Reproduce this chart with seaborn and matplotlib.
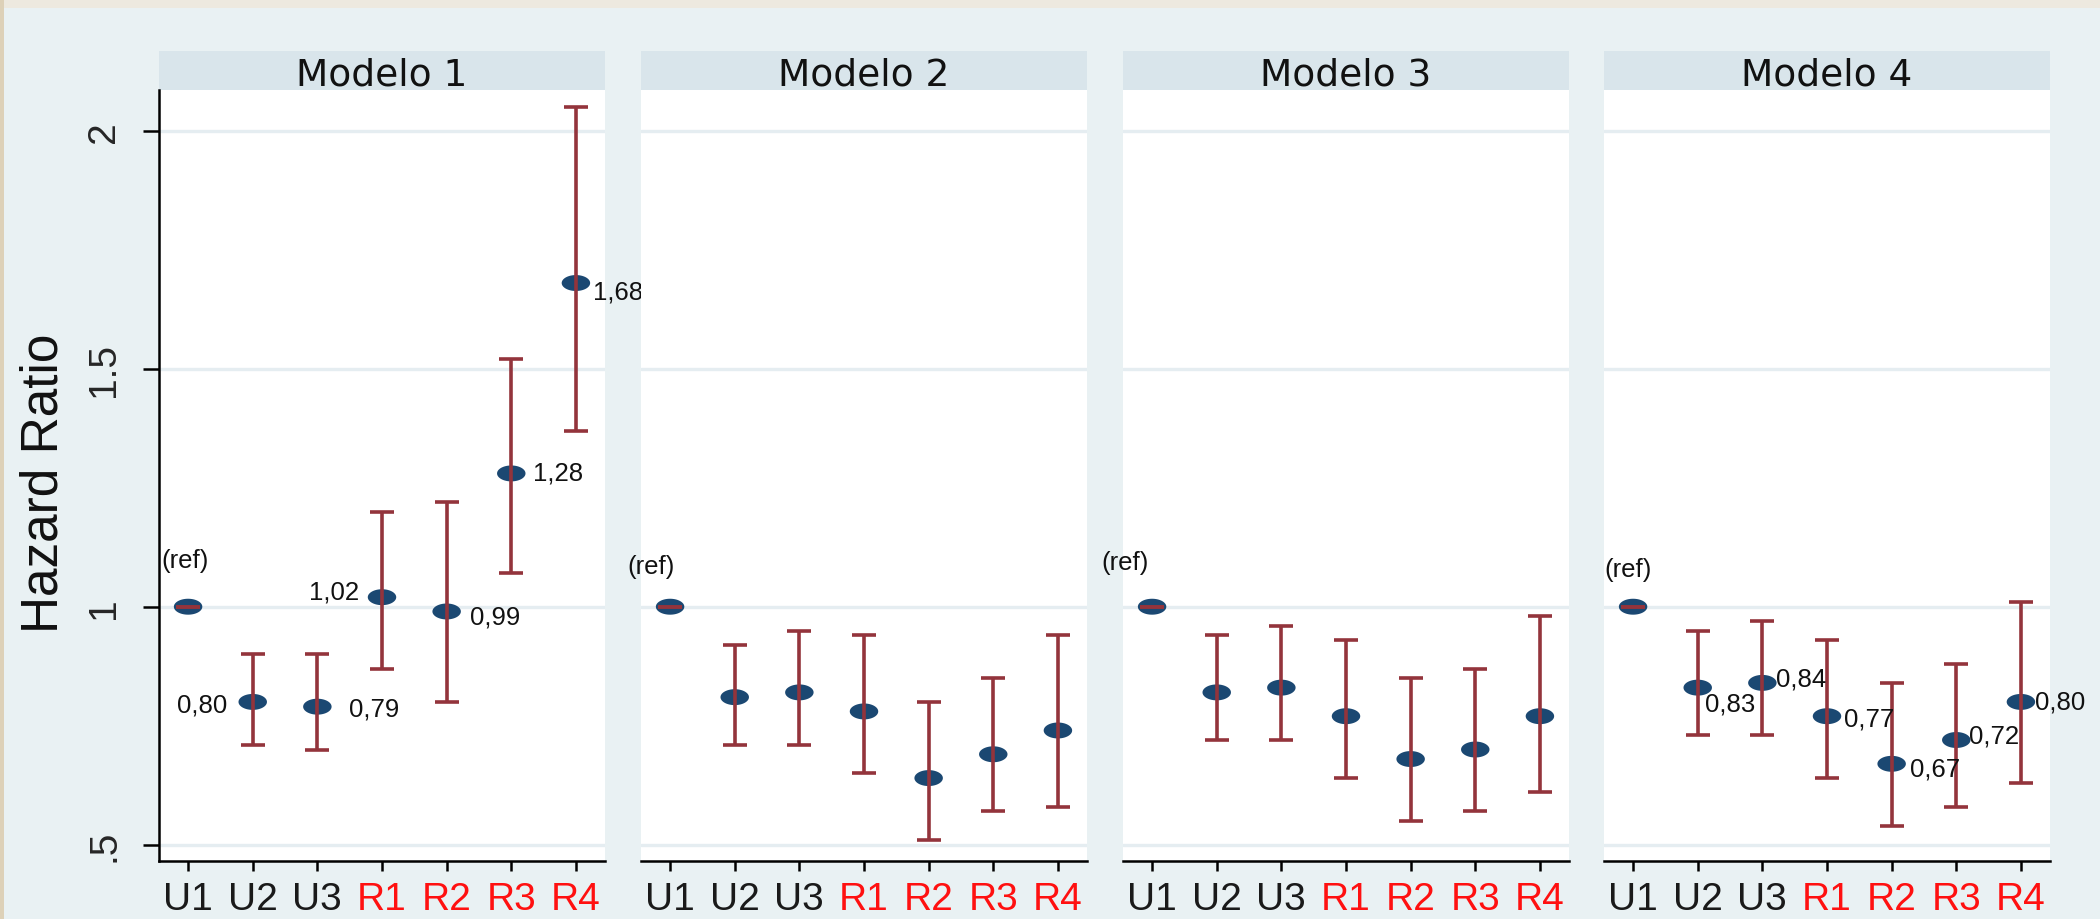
import numpy as np
import pandas as pd
import matplotlib
matplotlib.use("Agg")
import matplotlib.pyplot as plt
import seaborn as sns
from matplotlib.path import Path
from matplotlib.patches import Rectangle

# ---- data -------------------------------------------------------------
modelos = ["Modelo 1", "Modelo 2", "Modelo 3", "Modelo 4"]
grupos = ["U1", "U2", "U3", "R1", "R2", "R3", "R4"]
grupo_tipo = ["U", "U", "U", "R", "R", "R", "R"]

hr_m1 = [1.00, 0.80, 0.79, 1.02, 0.99, 1.28, 1.68]
lo_m1 = [1.00, 0.71, 0.70, 0.87, 0.80, 1.07, 1.37]
hi_m1 = [1.00, 0.90, 0.90, 1.20, 1.22, 1.52, 2.05]

hr_m2 = [1.00, 0.81, 0.82, 0.78, 0.64, 0.69, 0.74]
lo_m2 = [1.00, 0.71, 0.71, 0.65, 0.51, 0.57, 0.58]
hi_m2 = [1.00, 0.92, 0.95, 0.94, 0.80, 0.85, 0.94]

hr_m3 = [1.00, 0.82, 0.83, 0.77, 0.68, 0.70, 0.77]
lo_m3 = [1.00, 0.72, 0.72, 0.64, 0.55, 0.57, 0.61]
hi_m3 = [1.00, 0.94, 0.96, 0.93, 0.85, 0.87, 0.98]

hr_m4 = [1.00, 0.83, 0.84, 0.77, 0.67, 0.72, 0.80]
lo_m4 = [1.00, 0.73, 0.73, 0.64, 0.54, 0.58, 0.63]
hi_m4 = [1.00, 0.95, 0.97, 0.93, 0.84, 0.88, 1.01]

# models whose estimates are printed next to the points
modelos_rotulados = ["Modelo 1", "Modelo 4"]

yticks = [0.5, 1.0, 1.5, 2.0]
ytick_labels = [".5", "1", "1.5", "2"]
y_titulo = "Hazard Ratio"
ref_texto = "(ref)"

df = pd.concat([
    pd.DataFrame({"modelo": m, "grupo": grupos, "tipo": grupo_tipo,
                  "hr": hr, "lo": lo, "hi": hi})
    for m, hr, lo, hi in [
        (modelos[0], hr_m1, lo_m1, hi_m1),
        (modelos[1], hr_m2, lo_m2, hi_m2),
        (modelos[2], hr_m3, lo_m3, hi_m3),
        (modelos[3], hr_m4, lo_m4, hi_m4),
    ]
], ignore_index=True)

# ---- styling / layout ---------------------------------------------------
W, H = 2100, 920
DPI = 100
BEIGE = "#EDE9DF"
TAN = "#DDD1B8"
FONDO = "#E9F1F3"
CABECERA = "#D9E5EB"
GRID = "#E5EDF1"
PUNTO = "#1B4872"
IC = "#93343C"
COLOR_TIPO = {"U": "#1A1A1A", "R": "#FF1010"}

panel_left_px = [159, 641, 1123, 1604]
panel_w_px = 446
plot_top_px, plot_bot_px = 91, 862
head_top_px = 52

# label placement (pixels relative to the point): dx, dy, ha
rotulo_pos = {
    "Modelo 1": [None, (-25, -3, "right"), (32, -2, "left"), (-23, 6, "right"),
                 (23, -5, "left"), (22, 1, "left"), (17, -8, "left")],
    "Modelo 4": [None, (7, -16, "left"), (14, 4, "left"), (17, -2, "left"),
                 (18, -5, "left"), (13, 4, "left"), (14, 0, "left")],
}
ref_pos = [(-3, 47), (-19, 41), (-27, 45), (-5, 38)]

sns.set_style("white")
plt.rcParams["font.family"] = ["Liberation Sans", "DejaVu Sans"]

# horizontally flattened dot marker
t = np.linspace(0, 2 * np.pi, 73)
elipse = Path(np.column_stack([np.cos(t), 0.56 * np.sin(t)]), closed=True)

fig = plt.figure(figsize=(W / DPI, H / DPI), dpi=DPI, facecolor=BEIGE)
fig.add_artist(Rectangle((0, 0), 4 / W, 1, transform=fig.transFigure,
                         facecolor=TAN, edgecolor="none", zorder=-3))
fig.add_artist(Rectangle((4 / W, 0), 1, 1 - 9 / H, transform=fig.transFigure,
                         facecolor=FONDO, edgecolor="none", zorder=-2))

TICK_FONT = ["Liberation Sans Narrow", "Liberation Sans", "DejaVu Sans"]

for i, modelo in enumerate(modelos):
    sub = df[df["modelo"] == modelo].reset_index(drop=True)
    left = panel_left_px[i] / W
    bottom = 1 - plot_bot_px / H
    height = (plot_bot_px - plot_top_px) / H
    ax = fig.add_axes([left, bottom, panel_w_px / W, height])
    ax.set_facecolor("white")

    # header strip with the model name
    fig.add_artist(Rectangle((left, 1 - plot_top_px / H), panel_w_px / W,
                             (plot_top_px - head_top_px) / H,
                             transform=fig.transFigure, facecolor=CABECERA,
                             edgecolor="none", zorder=-1))
    fig.text(left + panel_w_px / W / 2, 1 - (head_top_px + plot_top_px) / 2 / H,
             modelo, ha="center", va="center_baseline", fontsize=27,
             family="DejaVu Sans", color="#111111")

    sns.scatterplot(data=sub, x="grupo", y="hr", ax=ax, marker=elipse, s=420,
                    color=PUNTO, edgecolor="none", linewidth=0, zorder=3,
                    legend=False)
    ax.errorbar(sub["grupo"], sub["hr"],
                yerr=[sub["hr"] - sub["lo"], sub["hi"] - sub["hr"]],
                fmt="none", ecolor=IC, elinewidth=2.6, capsize=8.3,
                capthick=2.6, zorder=4)

    ax.set_xlim(-0.45, 6.45)
    ax.set_ylim(0.4658, 2.0855)
    ax.set_yticks(yticks)
    ax.grid(axis="y", color=GRID, linewidth=2.4, zorder=0)
    ax.grid(axis="x", visible=False)
    ax.set_axisbelow(True)
    ax.set_xlabel("")
    ax.set_ylabel("")

    for s in ["top", "right"]:
        ax.spines[s].set_visible(False)
    ax.spines["bottom"].set_color("black")
    ax.spines["bottom"].set_linewidth(1.8)
    ax.tick_params(axis="x", bottom=True, length=7.2, width=1.8, color="black",
                   pad=7, labelsize=28)
    for lab, tipo in zip(ax.get_xticklabels(), grupo_tipo):
        lab.set_color(COLOR_TIPO[tipo])
        lab.set_family(TICK_FONT)

    if i == 0:
        ax.spines["left"].set_color("black")
        ax.spines["left"].set_linewidth(1.8)
        ax.set_yticklabels(ytick_labels)
        ax.tick_params(axis="y", left=True, length=11.5, width=1.8,
                       color="black", pad=15, labelsize=28, labelrotation=90)
        for lab in ax.get_yticklabels():
            lab.set_family(TICK_FONT)
            lab.set_va("center")
    else:
        ax.spines["left"].set_visible(False)
        ax.tick_params(axis="y", left=False, labelleft=False)

    # reference category tag
    dx, dy = ref_pos[i]
    ax.annotate(ref_texto, (0, sub.loc[0, "hr"]), xytext=(dx, dy),
                textcoords="offset pixels", ha="center", va="center",
                fontsize=18.5, color="#111111", zorder=5)

    if modelo in modelos_rotulados:
        for j, fila in sub.iterrows():
            pos = rotulo_pos[modelo][j]
            if pos is None:
                continue
            dx, dy, ha = pos
            texto = f"{fila['hr']:.2f}".replace(".", ",")
            ax.annotate(texto, (j, fila["hr"]), xytext=(dx, dy),
                        textcoords="offset pixels", ha=ha, va="center",
                        fontsize=18.5, color="#111111", zorder=5,
                        annotation_clip=False)

fig.text(44 / W, 1 - 483 / H, y_titulo, rotation=90, ha="center", va="center",
         fontsize=37, color="#111111")

fig.savefig("out.png", dpi=DPI, facecolor=BEIGE)
